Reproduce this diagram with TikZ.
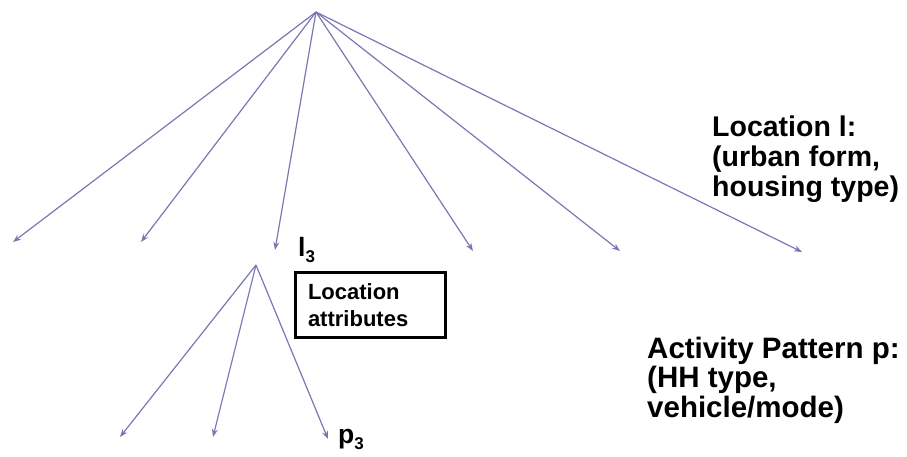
\documentclass[tikz,border=0pt]{standalone}
\usepackage{fontspec}
\setmainfont{Liberation Sans}
\usetikzlibrary{arrows.meta}
\definecolor{edgeblue}{RGB}{120,120,180}
\newcommand{\lowsub}[1]{{\fontsize{17}{17}\selectfont\raisebox{-6pt}{#1}}}
\begin{document}
\begin{tikzpicture}[x=1pt,y=-1pt,
  branch/.style={draw=edgeblue,line width=1.2pt,-{Stealth[length=8pt,width=6pt]}},
  biglabel/.style={align=left,inner sep=0pt,anchor=north west},
  symlabel/.style={font=\fontsize{26.5}{30}\selectfont\bfseries,inner sep=0pt,anchor=base west},
  attrbox/.style={draw=black,line width=3pt,minimum height=65pt,
    font=\fontsize{22}{26.7}\selectfont\bfseries,align=left,
    inner xsep=13pt,inner ysep=0pt,text width=124pt}]
\useasboundingbox (0,0) rectangle (907,456);

% upper level: location choices
\coordinate (root) at (316,12);
\coordinate (l1) at (13,242);
\coordinate (l2) at (141,242);
\coordinate (l3) at (275,250);
\coordinate (l4) at (473,251);
\coordinate (l5) at (620,251);
\coordinate (l6) at (802,252);
\foreach \n in {l1,l2,l3,l4,l5,l6} \draw[branch] (root) -- (\n);

% lower level: activity patterns under location 3
\coordinate (sub) at (256,265);
\coordinate (p1) at (120,437);
\coordinate (p2) at (213,437);
\coordinate (p3) at (328,439);
\foreach \n in {p1,p2,p3} \draw[branch] (sub) -- (\n);

% labels
\node[symlabel] (lab3) at (298,256.7) {l\lowsub{3}};
\node[symlabel] (pab3) at (338,443.3) {p\lowsub{3}};
\node[attrbox] (attr) at (370,305) {Location\\attributes};
\node[biglabel,font=\fontsize{28.5}{30.3}\selectfont\bfseries] (loclab) at (712,115.5)
  {Location l:\\(urban form,\\housing type)};
\node[biglabel,font=\fontsize{29.5}{29.5}\selectfont\bfseries] (actlab) at (647,336.8)
  {Activity Pattern p:\\(HH type,\\vehicle/mode)};
\end{tikzpicture}
\end{document}
